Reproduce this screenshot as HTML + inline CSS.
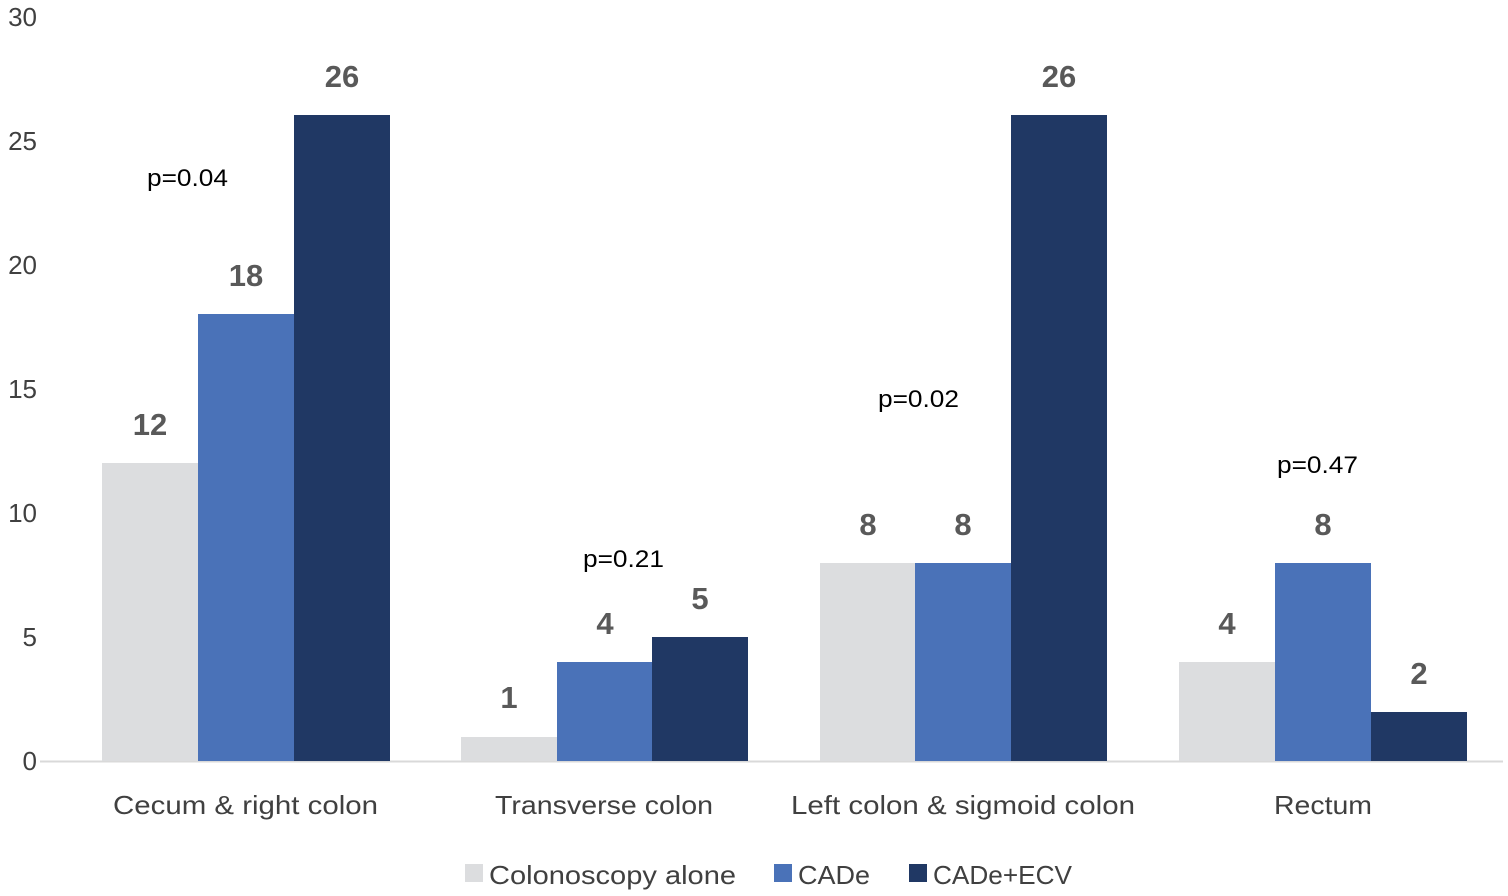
<!DOCTYPE html>
<html><head><meta charset="utf-8"><style>
html,body{margin:0;padding:0;background:#fff;}
svg{display:block;}
text{font-family:"Liberation Sans",sans-serif;}
</style></head><body>
<svg width="1508" height="896" viewBox="0 0 1508 896" xmlns="http://www.w3.org/2000/svg">
<g font-size="26" fill="#404040" text-anchor="end">
<text x="37" y="770">0</text>
<text x="37" y="646">5</text>
<text x="37" y="522">10</text>
<text x="37" y="398">15</text>
<text x="37" y="274">20</text>
<text x="37" y="150">25</text>
<text x="37" y="26">30</text>
</g>
<line x1="40" y1="761.5" x2="1503" y2="761.5" stroke="#d9d9d9" stroke-width="2"/>
<g>
<rect x="102" y="463" width="96" height="298" fill="#dcdddf"/>
<rect x="198" y="314" width="96" height="447" fill="#4a72b8"/>
<rect x="294" y="115" width="96" height="646" fill="#203864"/>
<rect x="461" y="737" width="96" height="24" fill="#dcdddf"/>
<rect x="557" y="662" width="95" height="99" fill="#4a72b8"/>
<rect x="652" y="637" width="96" height="124" fill="#203864"/>
<rect x="820" y="563" width="95" height="198" fill="#dcdddf"/>
<rect x="915" y="563" width="96" height="198" fill="#4a72b8"/>
<rect x="1011" y="115" width="96" height="646" fill="#203864"/>
<rect x="1179" y="662" width="96" height="99" fill="#dcdddf"/>
<rect x="1275" y="563" width="96" height="198" fill="#4a72b8"/>
<rect x="1371" y="712" width="96" height="49" fill="#203864"/>
</g>
<g font-size="31" font-weight="bold" fill="#595959" text-anchor="middle">
<text x="150" y="435">12</text>
<text x="246" y="286">18</text>
<text x="342" y="87">26</text>
<text x="509" y="708">1</text>
<text x="605" y="634">4</text>
<text x="700" y="609">5</text>
<text x="868" y="535">8</text>
<text x="963" y="535">8</text>
<text x="1059" y="87">26</text>
<text x="1227" y="634">4</text>
<text x="1323" y="535">8</text>
<text x="1419" y="684">2</text>
</g>
<g font-size="24" fill="#000">
<text x="147" y="186" textLength="81" lengthAdjust="spacingAndGlyphs">p=0.04</text>
<text x="583" y="567" textLength="81" lengthAdjust="spacingAndGlyphs">p=0.21</text>
<text x="878" y="407" textLength="81" lengthAdjust="spacingAndGlyphs">p=0.02</text>
<text x="1277" y="473" textLength="81" lengthAdjust="spacingAndGlyphs">p=0.47</text>
</g>
<g font-size="26" fill="#404040">
<text x="113" y="814" textLength="265" lengthAdjust="spacingAndGlyphs">Cecum &amp; right colon</text>
<text x="495" y="814" textLength="218" lengthAdjust="spacingAndGlyphs">Transverse colon</text>
<text x="791" y="814" textLength="344" lengthAdjust="spacingAndGlyphs">Left colon &amp; sigmoid colon</text>
<text x="1274" y="814" textLength="98" lengthAdjust="spacingAndGlyphs">Rectum</text>
</g>
<g font-size="26" fill="#404040">
<rect x="465" y="864" width="18" height="18" fill="#dcdddf"/>
<text x="489" y="884" textLength="247" lengthAdjust="spacingAndGlyphs">Colonoscopy alone</text>
<rect x="774" y="864" width="18" height="18" fill="#4a72b8"/>
<text x="798" y="884" textLength="72" lengthAdjust="spacingAndGlyphs">CADe</text>
<rect x="909" y="864" width="18" height="18" fill="#203864"/>
<text x="933" y="884" textLength="139" lengthAdjust="spacingAndGlyphs">CADe+ECV</text>
</g>
</svg>
</body></html>
